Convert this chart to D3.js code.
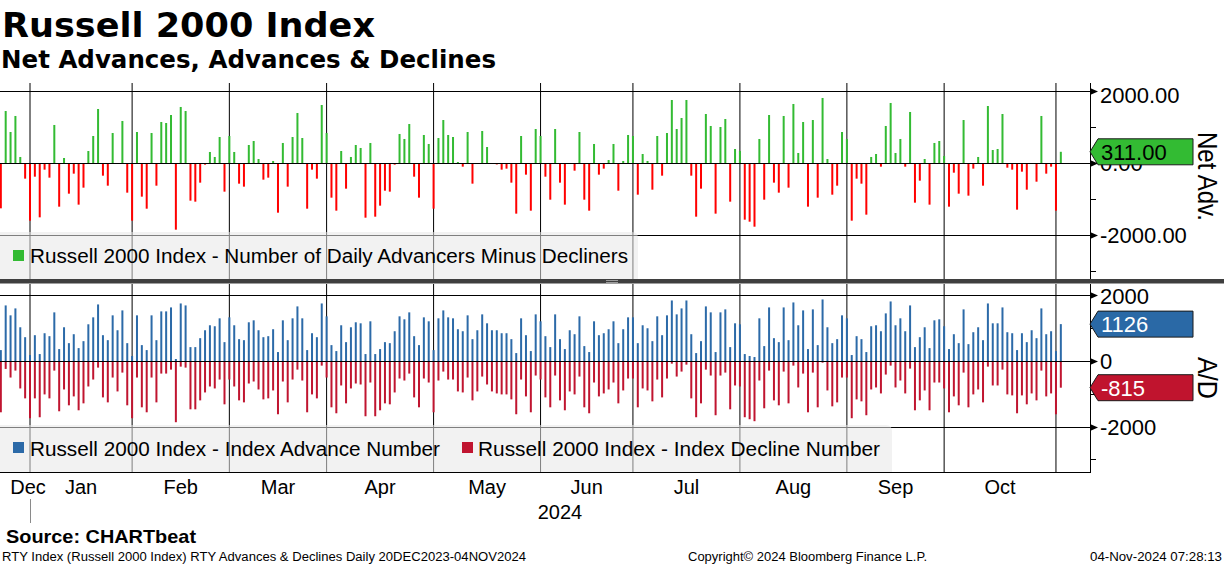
<!DOCTYPE html>
<html>
<head>
<meta charset="utf-8">
<script src="https://d3js.org/d3.v7.min.js"></script>
<style>
    body { margin: 0; background: #fff; }
    text { font-family: "Liberation Sans", Arial, sans-serif; fill: #000; }
    text.ttl { font-family: "DejaVu Sans", sans-serif; font-weight: bold; }
</style>
</head>
<body>
<div id="chart"></div>
<script>
// daily values, 21 Dec 2023 .. 04 Nov 2024 (one per trading day)
var netAdv = [
    -1259, 1444, 861, 1306, 167, -435,
    -1602, -380, -1509, -185, -407, 1056, -1213, 139, -852, -296, -1157, -685, 333, 750, 1500, -352, -630, 833, -20, 1167, -824,
    -1602, 861, -935, -1269, 833, -630, 1139, 1111, 1333, -1852, 1556, 1444, -1046, -1074, -546, -46, 306, 167, 722, -796,
    750, 306, -574, -657, 500, 611, 111, -463, -407, 56, -1380, 556, -657, 722, 1389, 694, -1269, -185, -435, 1611,
    833, -963, -1324, 333, -713, 167, 500, 417, -1519, 556, -1491, -1185, -769, -796, -46, 806, 667, 1083, -380, -963, 778, 528,
    -1269, 694, 1194, 778, 722, 28, -102, 861, -574, -10, 889, 444, -15, -40, -185, -157, -546, -1407, 750, -324, -1324, 944,
    750, -380, -1019, 944, -546, -1157, -10, -213, 861, -1019, -1324, 528, -324, -157, 83, 528, -769, 56, 778,
    750, -880, 250, 56, -741, 750, -352, 833, 1750, 944, 1250, 1750, -352, -1491, -713, 1361, 1028, -1407, 1000, 1222, -1074, 389,
    333, -1574, -1630, -1769, 667, -1019, 1333, -546, -824, 1306, -685, 1639, 278, 1139, -1213, 1194, -963, 1806, 111, -880, -630, 861,
    667, -1602, -435, -574, -1435, 167, 250, -102, 1028, 1667, 278, 667, -102, 1417, -1102, -491, 111, -1157, 556, 611,
    194, -1213, -269, -852, 1194, -907, -157, 167, -630, 1583, 361, 389, 1361, -130, -185, -1296, -241, -741, -20, -519, 1306, -296, -102,
    -1324, 311
];
var advances = [
    333, 1697, 1394, 1606, 1030, 727,
    182, 788, 212, 848, 758, 1485, 364, 1030, 545, 818, 394, 606, 1121, 1333, 1727, 788, 636, 1394, 939, 1545, 545,
    152, 1394, 485, 333, 1394, 636, 1515, 1515, 1636, 61, 1757, 1697, 424, 424, 697, 939, 1091, 1061, 1303, 576,
    1333, 1091, 667, 636, 1182, 1242, 939, 727, 758, 970, 273, 1242, 636, 1303, 1667, 1303, 333, 848, 727, 1757,
    1364, 485, 303, 1091, 576, 1030, 1182, 1151, 212, 1212, 212, 364, 576, 545, 909, 1364, 1273, 1485, 758, 485, 1333, 1212,
    333, 1303, 1545, 1333, 1303, 970, 909, 1394, 667, 939, 1424, 1151, 939, 939, 848, 848, 667, 242, 1303, 788, 303, 1424,
    1212, 758, 424, 1424, 667, 364, 939, 818, 1364, 455, 273, 1212, 788, 848, 970, 1212, 545, 970, 1333,
    1333, 545, 1091, 1000, 606, 1364, 788, 1394, 1848, 1424, 1606, 1848, 818, 242, 606, 1667, 1485, 273, 1485, 1576, 424, 1151,
    1121, 212, 152, 121, 1303, 455, 1636, 697, 576, 1636, 636, 1788, 1091, 1545, 364, 1576, 485, 1879, 1030, 545, 667, 1394,
    1303, 182, 758, 667, 273, 1061, 1091, 909, 1454, 1818, 1091, 1303, 909, 1697, 424, 727, 1030, 394, 1242, 1273,
    1061, 364, 818, 545, 1576, 515, 879, 1030, 636, 1757, 1151, 1151, 1636, 879, 848, 333, 848, 576, 939, 697, 1606, 818, 909,
    303, 1126
];
var declines = [
    1566, 242, 505, 293, 838, 1141,
    1747, 1141, 1717, 1020, 1141, 293, 1535, 869, 1353, 1081, 1505, 1293, 778, 566, 202, 1111, 1263, 505, 929, 354, 1353,
    1747, 505, 1414, 1566, 505, 1263, 384, 384, 263, 1869, 172, 202, 1475, 1475, 1202, 960, 778, 838, 566, 1323,
    566, 778, 1202, 1263, 687, 626, 869, 1172, 1141, 899, 1626, 626, 1263, 566, 263, 596, 1566, 1020, 1141, 141,
    505, 1414, 1596, 747, 1293, 838, 687, 717, 1687, 657, 1687, 1505, 1293, 1323, 960, 535, 596, 384, 1111, 1414, 535, 657,
    1566, 596, 323, 566, 566, 929, 960, 505, 1202, 929, 475, 717, 929, 990, 1020, 1020, 1172, 1626, 566, 1081, 1566, 444,
    566, 1111, 1414, 444, 1202, 1505, 929, 1020, 475, 1414, 1596, 657, 1081, 990, 869, 657, 1293, 899, 535,
    535, 1414, 838, 899, 1232, 566, 1111, 535, 81, 475, 323, 111, 1141, 1717, 1293, 263, 444, 1656, 444, 354, 1475, 747,
    778, 1717, 1778, 1838, 596, 1444, 293, 1202, 1353, 323, 1293, 141, 808, 384, 1566, 354, 1414, 51, 899, 1384, 1263, 505,
    505, 1747, 1172, 1232, 1656, 869, 808, 990, 414, 141, 808, 596, 990, 232, 1505, 1202, 899, 1505, 657, 657,
    838, 1566, 1081, 1353, 354, 1414, 1020, 869, 1263, 172, 747, 747, 263, 1020, 1050, 1596, 1050, 1323, 990, 1202, 293, 1081, 990,
    1626, 815
];
// month labels and the bar index of each month's first trading day (last entry = Nov)
var monthLabels = ["Dec", "Jan", "Feb", "Mar", "Apr", "May", "Jun", "Jul", "Aug", "Sep", "Oct"];
var monthStarts = [-1, 6, 27, 47, 67, 89, 111, 130, 152, 174, 194, 217];
var netTicks = [2000, 0, -2000];
var netMinor = [1000, -1000, -3000];
var adTicks = [2000, 0, -2000];
var adMinor = [1000, -1000, -3000];

var W = 1224, H = 566, plotR = 1090;
var svg = d3.select("#chart").append("svg").attr("width", W).attr("height", H);

var x = d3.scaleLinear().domain([-0.17, 224]).range([0, plotR]);
var yTop = d3.scaleLinear().domain([2222, -3222]).range([83, 279]);
var yBot = d3.scaleLinear().domain([2351, -3389]).range([284, 472]);

svg.append("clipPath").attr("id", "clipTop").append("rect")
    .attr("x", 0).attr("y", 83).attr("width", plotR).attr("height", 196);
svg.append("clipPath").attr("id", "clipBot").append("rect")
    .attr("x", 0).attr("y", 284).attr("width", plotR).attr("height", 188);

// titles
svg.append("text").attr("class", "ttl").attr("x", 2).attr("y", 37).style("font-size", "33px")
    .attr("textLength", 373).attr("lengthAdjust", "spacingAndGlyphs")
    .text("Russell 2000 Index");
svg.append("text").attr("class", "ttl").attr("x", 1).attr("y", 68).style("font-size", "25px")
    .attr("textLength", 495).attr("lengthAdjust", "spacingAndGlyphs")
    .text("Net Advances, Advances & Declines");

function panel(g, y, minorTicks, majorTicks) {
    var top = y.range()[0], bot = y.range()[1];
    // vertical month gridlines
    g.selectAll(".vg").data(monthStarts.slice(1)).enter().append("line")
        .attr("x1", function (d) { return x(d); }).attr("x2", function (d) { return x(d); })
        .attr("y1", top).attr("y2", bot).attr("stroke", "#000").attr("stroke-width", 1);
    // horizontal gridlines
    g.selectAll(".hg").data(majorTicks.filter(function (d) { return d !== 0; })).enter().append("line")
        .attr("x1", 0).attr("x2", plotR)
        .attr("y1", function (d) { return Math.round(y(d)) + 0.5; }).attr("y2", function (d) { return Math.round(y(d)) + 0.5; })
        .attr("stroke", "#000");
    // axis line + ticks
    g.append("line").attr("x1", plotR + 0.5).attr("x2", plotR + 0.5).attr("y1", top).attr("y2", bot).attr("stroke", "#000");
    g.selectAll(".mt").data(minorTicks).enter().append("line")
        .attr("x1", plotR).attr("x2", plotR + 6)
        .attr("y1", function (d) { return Math.round(y(d)) + 0.5; }).attr("y2", function (d) { return Math.round(y(d)) + 0.5; })
        .attr("stroke", "#000");
    g.selectAll(".tt").data(majorTicks).enter().append("path")
        .attr("d", function (d) { var yy = Math.round(y(d)) + 0.5; return "M" + plotR + "," + (yy - 3.5) + "L" + (plotR + 8) + "," + yy + "L" + plotR + "," + (yy + 3.5) + "Z"; })
        .attr("fill", "#000");
}

function bars(g, data, y, clipId, colorFn) {
    g.append("g").attr("clip-path", "url(#" + clipId + ")")
        .selectAll("rect").data(data).enter().append("rect")
        .attr("x", function (d, i) { return x(i) - 1; })
        .attr("width", 2)
        .attr("y", function (d) { return Math.min(y(0), y(d)); })
        .attr("height", function (d) { return Math.abs(y(d) - y(0)); })
        .attr("fill", colorFn);
}

function zeroLine(g, y) {
    g.append("line").attr("x1", 0).attr("x2", plotR)
        .attr("y1", Math.round(y(0)) + 0.5).attr("y2", Math.round(y(0)) + 0.5).attr("stroke", "#000");
}

function axisLabels(g, y, ticks, fmt) {
    var top = y.range()[0];
    g.selectAll(".al").data(ticks).enter().append("text")
        .attr("x", plotR + 10)
        .attr("y", function (d) { return Math.max(y(d) + 8, top + 20); })
        .style("font-size", "22px")
        .text(function (d) { return fmt(d); });
}

function valueTag(g, y, v, fill, txtColor, label) {
    var cy = y(v);
    g.append("path")
        .attr("d", "M" + plotR + "," + cy + "L" + (plotR + 8) + "," + (cy - 13) + "L1193," + (cy - 13) +
            "L1193," + (cy + 13) + "L" + (plotR + 8) + "," + (cy + 13) + "Z")
        .attr("fill", fill).attr("stroke", "#1a1a1a").attr("stroke-width", 1);
    g.append("text").attr("x", plotR + 11).attr("y", cy + 8).style("font-size", "22px")
        .style("fill", txtColor).text(label);
}

function legendBox(g, y0, y1, w) {
    g.append("path")
        .attr("d", "M0," + y0 + "L" + (w - 6) + "," + y0 + "Q" + w + "," + y0 + " " + w + "," + (y0 + 6) + "L" + w + "," + y1 + "L0," + y1 + "Z")
        .attr("fill", "#e8e8e8").attr("fill-opacity", 0.55);
}

var fixed2 = function (d) { return d.toFixed(2); };
var plain = function (d) { return String(d); };

// ---- top panel: net advances
var gTop = svg.append("g");
panel(gTop, yTop, netMinor, netTicks);
bars(gTop, netAdv, yTop, "clipTop", function (d) { return d >= 0 ? "#33bb33" : "#ff0000"; });
zeroLine(gTop, yTop);
// the 0.00 label sits partly behind the last-value tag, as in the original
axisLabels(gTop, yTop, netTicks, fixed2);
valueTag(gTop, yTop, netAdv[netAdv.length - 1], "#33bb33", "#000", fixed2(netAdv[netAdv.length - 1]));
legendBox(gTop, 232, 279, 638);
gTop.append("rect").attr("x", 13).attr("y", 250).attr("width", 11).attr("height", 11).attr("fill", "#33bb33");
gTop.append("text").attr("x", 30).attr("y", 263).style("font-size", "19.5px")
    .attr("textLength", 598).attr("lengthAdjust", "spacingAndGlyphs")
    .text("Russell 2000 Index - Number of Daily Advancers Minus Decliners");
gTop.append("text").attr("transform", "translate(1198,132) rotate(90)").style("font-size", "27px")
    .attr("textLength", 89).attr("lengthAdjust", "spacingAndGlyphs").text("Net Adv.");

// ---- separator
svg.append("rect").attr("x", 0).attr("y", 279).attr("width", W).attr("height", 4.5).attr("fill", "#3f3f3f");
svg.append("line").attr("x1", 606).attr("x2", 618).attr("y1", 280.5).attr("y2", 280.5).attr("stroke", "#9a9a9a");
svg.append("line").attr("x1", 606).attr("x2", 618).attr("y1", 282.5).attr("y2", 282.5).attr("stroke", "#9a9a9a");

// ---- bottom panel: advances & declines
var gBot = svg.append("g");
panel(gBot, yBot, adMinor, adTicks);
bars(gBot, advances, yBot, "clipBot", function () { return "#2c6aa8"; });
bars(gBot, declines.map(function (d) { return -d; }), yBot, "clipBot", function () { return "#c01530"; });
zeroLine(gBot, yBot);
axisLabels(gBot, yBot, adTicks, plain);
valueTag(gBot, yBot, advances[advances.length - 1], "#2a69a6", "#fff", plain(advances[advances.length - 1]));
valueTag(gBot, yBot, -declines[declines.length - 1], "#c0142e", "#fff", plain(-declines[declines.length - 1]));
legendBox(gBot, 425, 472, 892);
gBot.append("rect").attr("x", 13).attr("y", 442).attr("width", 11).attr("height", 11).attr("fill", "#2c6aa8");
gBot.append("text").attr("x", 30).attr("y", 456).style("font-size", "19.5px")
    .attr("textLength", 410).attr("lengthAdjust", "spacingAndGlyphs")
    .text("Russell 2000 Index - Index Advance Number");
gBot.append("rect").attr("x", 462).attr("y", 442).attr("width", 11).attr("height", 11).attr("fill", "#c01530");
gBot.append("text").attr("x", 478).attr("y", 456).style("font-size", "19.5px")
    .attr("textLength", 402).attr("lengthAdjust", "spacingAndGlyphs")
    .text("Russell 2000 Index - Index Decline Number");
gBot.append("text").attr("transform", "translate(1198,357) rotate(90)").style("font-size", "27px")
    .attr("textLength", 42).attr("lengthAdjust", "spacingAndGlyphs").text("A/D");

// bottom x axis line
svg.append("line").attr("x1", 0).attr("x2", plotR + 1).attr("y1", 472.5).attr("y2", 472.5).attr("stroke", "#000");

// month labels centred between month starts
svg.selectAll(".ml").data(monthLabels).enter().append("text")
    .attr("x", function (d, i) { return Math.max((x(monthStarts[i]) + x(monthStarts[i + 1])) / 2, 28); })
    .attr("y", 494).attr("text-anchor", "middle").style("font-size", "20px")
    .text(function (d) { return d; });
// year label centred on the 2024 part of the axis
svg.append("text").attr("x", (x(monthStarts[1]) + plotR) / 2).attr("y", 519)
    .attr("text-anchor", "middle").style("font-size", "20px").text("2024");
svg.append("line").attr("x1", 30.5).attr("x2", 30.5).attr("y1", 499).attr("y2", 523).attr("stroke", "#8a8a8a");

// footer
svg.append("text").attr("x", 6).attr("y", 543).style("font-size", "19px").style("font-weight", "bold")
    .attr("textLength", 190).attr("lengthAdjust", "spacingAndGlyphs").text("Source: CHARTbeat");
svg.append("text").attr("x", 2).attr("y", 561).style("font-size", "12.5px")
    .attr("textLength", 524).attr("lengthAdjust", "spacingAndGlyphs")
    .text("RTY Index (Russell 2000 Index) RTY Advances & Declines  Daily 20DEC2023-04NOV2024");
svg.append("text").attr("x", 688).attr("y", 561).style("font-size", "12.5px")
    .attr("textLength", 239).attr("lengthAdjust", "spacingAndGlyphs")
    .text("Copyright\u00a9 2024 Bloomberg Finance L.P.");
svg.append("text").attr("x", 1090).attr("y", 561).style("font-size", "12.5px")
    .attr("textLength", 132).attr("lengthAdjust", "spacingAndGlyphs")
    .text("04-Nov-2024 07:28:13");
</script>
</body>
</html>
